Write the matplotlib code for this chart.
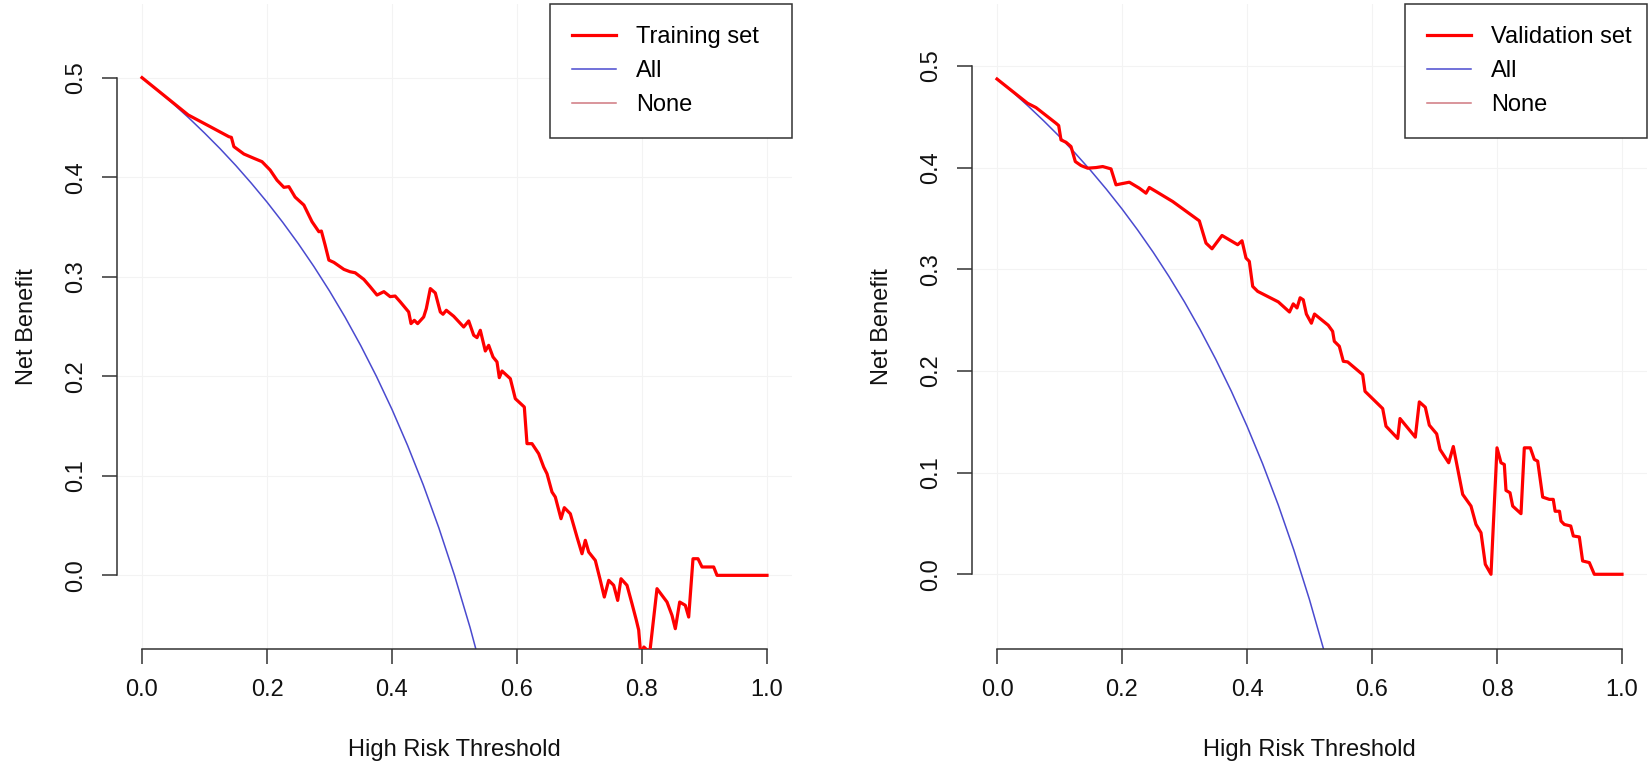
import matplotlib
matplotlib.use("Agg")
import matplotlib.pyplot as plt
from matplotlib.lines import Line2D

plt.rcParams['font.family'] = ['Liberation Sans', 'DejaVu Sans']

# ---------------- data ----------------
train_t = [0.0, 0.074, 0.109, 0.139, 0.143, 0.147, 0.163, 0.179, 0.192, 0.205, 0.216, 0.227,
           0.235, 0.245, 0.259, 0.272, 0.283, 0.287, 0.293, 0.299, 0.307, 0.323, 0.333, 0.341,
           0.355, 0.365, 0.376, 0.387, 0.397, 0.405, 0.4133, 0.4267, 0.4304, 0.4357, 0.441,
           0.4507, 0.4549, 0.4613, 0.4693, 0.4773, 0.4816, 0.4869, 0.4987, 0.5147, 0.5227,
           0.5307, 0.536, 0.5413, 0.5493, 0.5547, 0.5616, 0.568, 0.5717, 0.576, 0.5893, 0.5973,
           0.6117, 0.616, 0.624, 0.6347, 0.6427, 0.648, 0.656, 0.6613, 0.6704, 0.6757, 0.6853,
           0.696, 0.704, 0.7093, 0.7147, 0.7253, 0.7333, 0.7397, 0.7467, 0.7547, 0.7611, 0.7664,
           0.776, 0.784, 0.7909, 0.7947, 0.798, 0.803, 0.808, 0.812, 0.824, 0.832, 0.84, 0.848,
           0.8533, 0.8603, 0.8693, 0.8747, 0.8816, 0.8896, 0.896, 0.9147, 0.92, 1.0]
train_nb = [0.5, 0.4625, 0.4508, 0.4407, 0.440, 0.4307, 0.4233, 0.419, 0.4156, 0.4072, 0.397,
            0.3898, 0.3905, 0.380, 0.372, 0.3553, 0.3452, 0.3459, 0.3318, 0.3167, 0.3144, 0.3074,
            0.305, 0.304, 0.2973, 0.290, 0.2816, 0.285, 0.280, 0.2806, 0.2747, 0.2646, 0.2529,
            0.2562, 0.2529, 0.2596, 0.268, 0.2881, 0.2837, 0.2646, 0.2623, 0.2663, 0.2603,
            0.2495, 0.2556, 0.2412, 0.2388, 0.2462, 0.2254, 0.2311, 0.2194, 0.2144, 0.1986,
            0.2053, 0.1976, 0.1775, 0.1691, 0.1323, 0.1323, 0.1222, 0.1088, 0.1021, 0.0837,
            0.0787, 0.0569, 0.068, 0.0619, 0.0385, 0.0217, 0.0352, 0.0234, 0.015, -0.005,
            -0.0218, -0.005, -0.01, -0.0252, -0.0034, -0.01, -0.0285, -0.045, -0.055, -0.08,
            -0.072, -0.075, -0.08, -0.0134, -0.0201, -0.0268, -0.0402, -0.0536, -0.0268, -0.0301,
            -0.0419, 0.0167, 0.0167, 0.0084, 0.0084, 0.0, 0.0]

val_t = [0.0, 0.049, 0.0624, 0.0944, 0.0987, 0.1024, 0.1104, 0.1184, 0.1253, 0.1344, 0.1451,
         0.1584, 0.1691, 0.1824, 0.1904, 0.1984, 0.2117, 0.2277, 0.2384, 0.2437, 0.2544, 0.2811,
         0.3237, 0.3344, 0.344, 0.36, 0.3851, 0.392, 0.3984, 0.4037, 0.4091, 0.4171, 0.45,
         0.468, 0.474, 0.48, 0.485, 0.49, 0.495, 0.503, 0.508, 0.52, 0.53, 0.537, 0.5397,
         0.5477, 0.5541, 0.5611, 0.5851, 0.5888, 0.6171, 0.6224, 0.6411, 0.6448, 0.6693,
         0.6757, 0.6853, 0.6917, 0.7035, 0.7088, 0.7227, 0.7301, 0.7451, 0.7584, 0.7664,
         0.7744, 0.7813, 0.7904, 0.8, 0.8064, 0.8117, 0.8144, 0.8208, 0.8251, 0.8384, 0.8437,
         0.8533, 0.8597, 0.8651, 0.8731, 0.8837, 0.89, 0.893, 0.90, 0.9024, 0.9077, 0.918,
         0.9221, 0.9317, 0.937, 0.9477, 0.9557, 1.0]
val_nb = [0.4872, 0.4633, 0.4591, 0.4437, 0.4414, 0.4273, 0.425, 0.4208, 0.406, 0.4021, 0.3995,
          0.4001, 0.4011, 0.3988, 0.3831, 0.3841, 0.3857, 0.3798, 0.3749, 0.3805, 0.3766,
          0.3667, 0.3477, 0.3258, 0.3202, 0.3333, 0.3242, 0.3281, 0.3111, 0.3078, 0.2832,
          0.2783, 0.268, 0.258, 0.266, 0.262, 0.272, 0.27, 0.256, 0.247, 0.256, 0.25, 0.245,
          0.239, 0.2292, 0.2243, 0.2095, 0.2089, 0.1964, 0.18, 0.163, 0.1457, 0.1336, 0.1532,
          0.1349, 0.1696, 0.1643, 0.1467, 0.1381, 0.1228, 0.1097, 0.1257, 0.0786, 0.0671,
          0.049, 0.0409, 0.0098, 0.0, 0.1244, 0.1097, 0.108, 0.0825, 0.0802, 0.0671, 0.0596,
          0.1244, 0.1244, 0.113, 0.1113, 0.0759, 0.0737, 0.0737, 0.062, 0.062, 0.0524, 0.049,
          0.0475, 0.0377, 0.0367, 0.0131, 0.0115, 0.0, 0.0]

all_t = [0.0, 0.025, 0.05, 0.075, 0.1, 0.125, 0.15, 0.175, 0.2, 0.225, 0.25, 0.275, 0.3,
         0.325, 0.35, 0.375, 0.4, 0.425, 0.45, 0.475, 0.5, 0.525, 0.55]
all_train_nb = [0.5, 0.4872, 0.4737, 0.4595, 0.4444, 0.4286, 0.4118, 0.3939, 0.375, 0.3548,
                0.3333, 0.3103, 0.2857, 0.2593, 0.2308, 0.2, 0.1667, 0.1304, 0.0909, 0.0476,
                0.0, -0.0526, -0.1111]
all_val_nb = [0.4875, 0.4744, 0.4605, 0.4459, 0.4306, 0.4143, 0.3971, 0.3788, 0.3594, 0.3387,
              0.3167, 0.2931, 0.2679, 0.2407, 0.2115, 0.18, 0.1458, 0.1087, 0.0682, 0.0238,
              -0.025, -0.079, -0.1389]

x_ticks = [0.0, 0.2, 0.4, 0.6, 0.8, 1.0]
x_ticklabels = ["0.0", "0.2", "0.4", "0.6", "0.8", "1.0"]
y_ticks = [0.0, 0.1, 0.2, 0.3, 0.4, 0.5]
y_ticklabels = ["0.0", "0.1", "0.2", "0.3", "0.4", "0.5"]
panel_labels = ["Training set", "Validation set"]
ylims_data = [(-0.05, 0.55), (-0.05, 0.5375)]

# ---------------- styling ----------------
RED = "#FF0000"
BLUE = "#4A4ACF"
NONE_C = "#D07880"
AXC = "#333333"
FS = 17

W, H = 1650, 771
fig = plt.figure(figsize=(W / 100, H / 100), dpi=100)

panels = [
    (117, train_t, train_nb, all_train_nb),
    (972, val_t, val_nb, all_val_nb),
]

for i, (x0, tt, nb, allnb) in enumerate(panels):
    ax = fig.add_axes([x0 / W, (H - 649) / H, 675 / W, 645 / H])
    lo, hi = ylims_data[i]
    r = hi - lo
    ax.set_xlim(-0.04, 1.04)
    ax.set_ylim(lo - 0.04 * r, hi + 0.04 * r)

    for xv in x_ticks:
        ax.axvline(xv, color="#F3F3F3", lw=0.8, zorder=0)
    for yv in y_ticks:
        ax.axhline(yv, color="#F3F3F3", lw=0.8, zorder=0)

    ax.plot(all_t, allnb, color=BLUE, lw=1.1, zorder=2)
    ax.plot(tt, nb, color=RED, lw=2.3, zorder=3, solid_joinstyle="round")

    for s in ["top", "right"]:
        ax.spines[s].set_visible(False)
    ax.spines["left"].set_bounds(0.0, 0.5)
    ax.spines["bottom"].set_bounds(0.0, 1.0)
    for s in ["left", "bottom"]:
        ax.spines[s].set_color(AXC)
        ax.spines[s].set_linewidth(1.1)

    ax.set_xticks(x_ticks)
    ax.set_xticklabels(x_ticklabels)
    ax.set_yticks(y_ticks)
    ax.set_yticklabels(y_ticklabels, rotation=90, va="center")
    ax.tick_params(direction="out", length=10.8, width=1.1, color=AXC,
                   labelsize=FS, labelcolor="#111111", pad=11)
    ax.set_xlabel("High Risk Threshold", fontsize=FS, color="#111111", labelpad=27)
    ax.set_ylabel("Net Benefit", fontsize=FS, color="#111111", labelpad=19)

    handles = [Line2D([], [], color=RED, lw=2.3),
               Line2D([], [], color=BLUE, lw=1.1),
               Line2D([], [], color=NONE_C, lw=1.1)]
    lw_frac = 242 / 675
    leg = ax.legend(handles, [panel_labels[i], "All", "None"],
                    loc="upper right", bbox_to_anchor=(1 - lw_frac, 0.0, lw_frac, 1.0),
                    mode="expand", borderaxespad=0, fontsize=FS, frameon=True,
                    fancybox=False, framealpha=1, edgecolor=AXC,
                    handlelength=1.86, handletextpad=0.85, labelspacing=0.5,
                    borderpad=0.95)
    leg.get_frame().set_linewidth(1.1)

fig.savefig("out.png", dpi=100)
